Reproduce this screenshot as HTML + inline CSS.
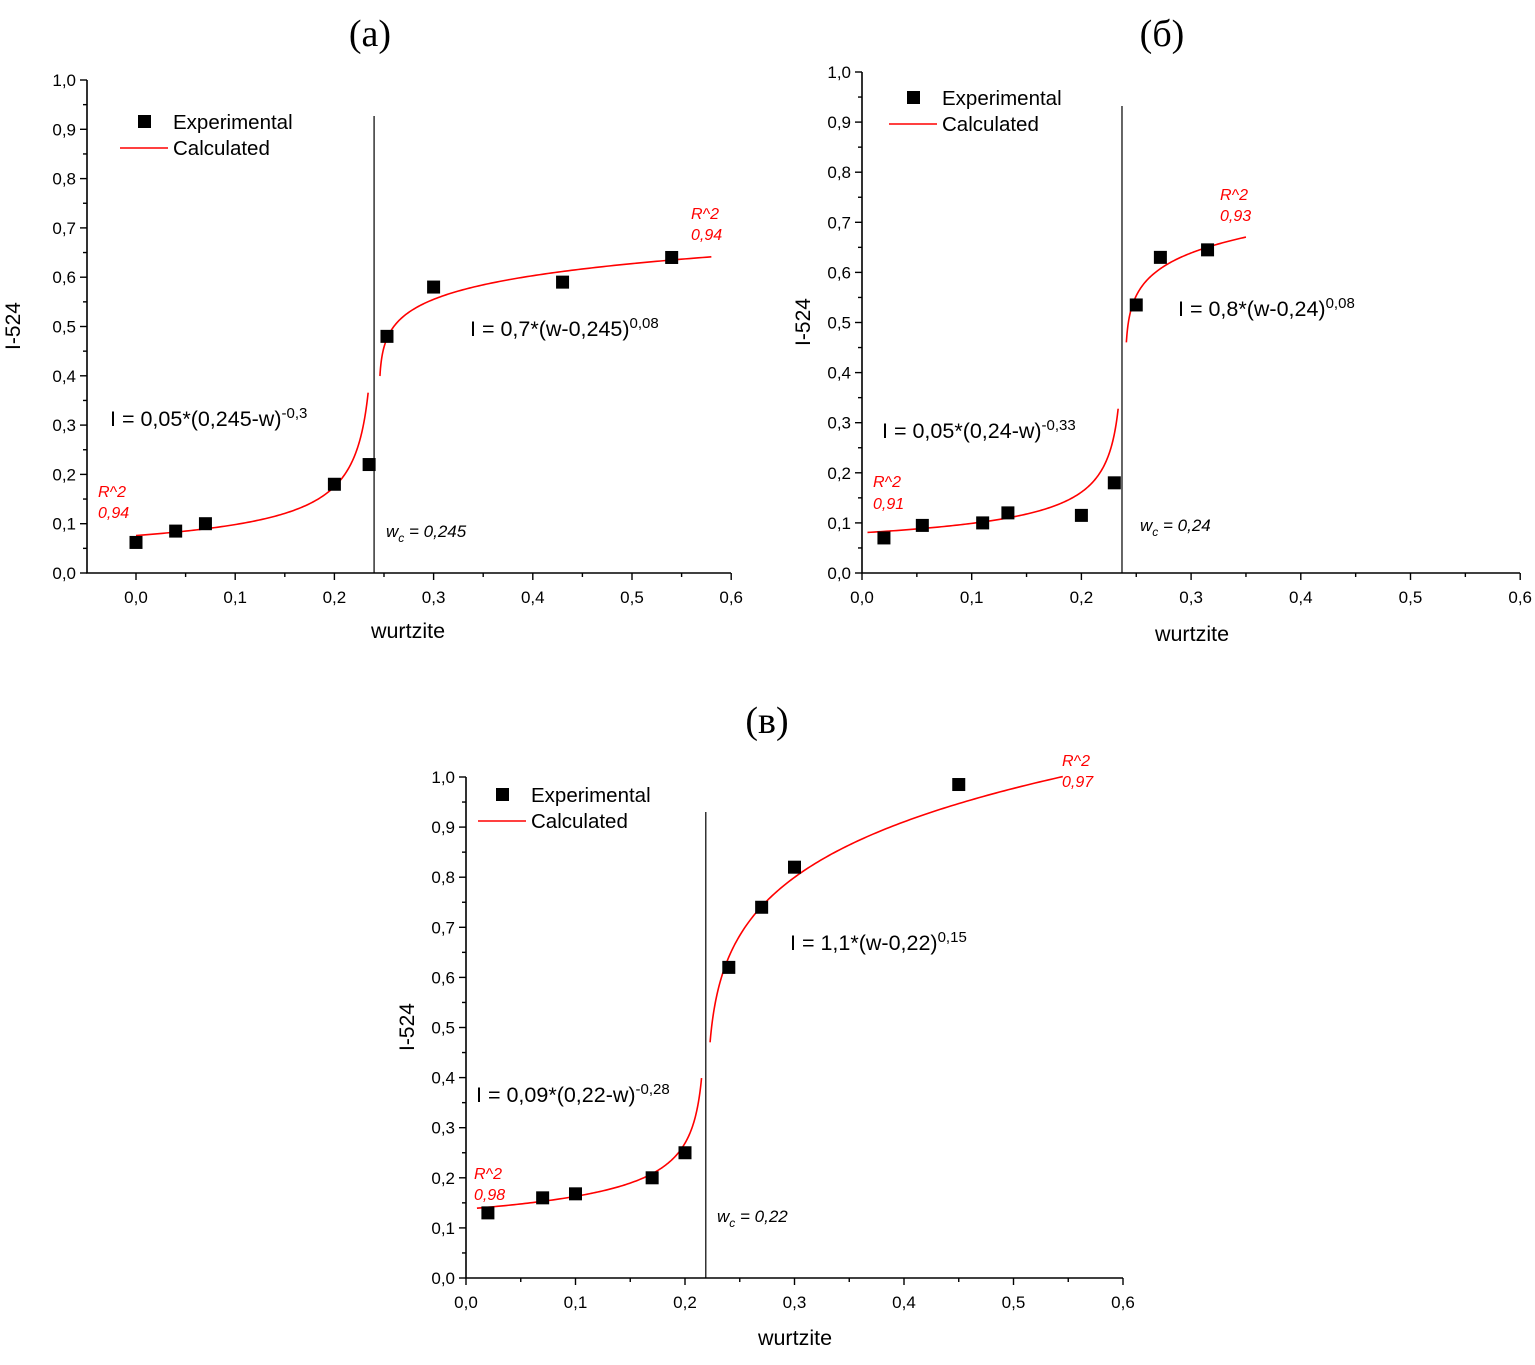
<!DOCTYPE html>
<html><head><meta charset="utf-8"><style>
body{margin:0;background:#fff;}
svg{display:block;font-family:"Liberation Sans",sans-serif;}
</style></head><body>
<svg id="chart" width="1535" height="1365" viewBox="0 0 1535 1365" xmlns="http://www.w3.org/2000/svg"></svg>
<script>
// Panel (a)
const aX = [0, 0.04, 0.07, 0.2, 0.235, 0.253, 0.3, 0.43, 0.54];
const aY = [0.062, 0.085, 0.1, 0.18, 0.22, 0.48, 0.58, 0.59, 0.64];
// Panel (b)
const bX = [0.02, 0.055, 0.11, 0.133, 0.2, 0.23, 0.25, 0.272, 0.315];
const bY = [0.07, 0.095, 0.1, 0.12, 0.115, 0.18, 0.535, 0.63, 0.645];
// Panel (c)
const cX = [0.02, 0.07, 0.1, 0.17, 0.2, 0.24, 0.27, 0.3, 0.45];
const cY = [0.13, 0.16, 0.168, 0.2, 0.25, 0.62, 0.74, 0.82, 0.985];
const xTickLabels = ["0,0","0,1","0,2","0,3","0,4","0,5","0,6"];
const yTickLabels = ["0,0","0,1","0,2","0,3","0,4","0,5","0,6","0,7","0,8","0,9","1,0"];
// fit params: [a, wc, b]
const aFit = {lo:[0.0384,0.2435,-0.484], hi:[0.7,0.245,0.08], loRange:[0,0.234], hiRange:[0.2459,0.58], wc:0.24};
const bFit = {lo:[0.046,0.24,-0.39], hi:[0.8,0.24,0.08], loRange:[0.005,0.2335], hiRange:[0.241,0.35], wc:0.237};
const cFit = {lo:[0.09,0.22,-0.28], hi:[1.198,0.22,0.16], loRange:[0.01,0.2151], hiRange:[0.2229,0.545], wc:0.219};

const svg = document.getElementById('chart');
const NS = 'http://www.w3.org/2000/svg';
function mk(tag, attrs, parent){const e=document.createElementNS(NS,tag);for(const k in attrs)e.setAttribute(k,attrs[k]);(parent||svg).appendChild(e);return e;}
function txt(s, x, y, attrs, parent){const t=mk('text',Object.assign({x:x,y:y},attrs),parent);t.innerHTML=s;return t;}

function panel(id, cfg, xs, ys, fit, texts){
  const g = mk('g',{});
  
  
  const X = v => cfg.x0 + v*cfg.xs;
  const Y = v => cfg.y0 - v*cfg.ys;
  const ax = mk('path',{d:`M${cfg.left} ${Y(1)} V${Y(0)} H${cfg.right}`,stroke:'#000','stroke-width':1.6,fill:'none'},g);
  
  
  for(let i=0;i<=20;i++){
    const v=i*0.05, y=Y(v), maj=i%2===0;
    mk('line',{x1:cfg.left,x2:cfg.left-(maj?7:4),y1:y,y2:y,stroke:'#000','stroke-width':1.4},g);
    if(maj){const t=txt(yTickLabels[i/2],cfg.left-11,y+6,{'font-size':17,'text-anchor':'end'},g);
      }
  }
  for(let i=cfg.xminTick;i<=12;i++){
    const v=i*0.05, x=X(v), maj=i%2===0;
    if(x<cfg.left-0.5) continue;
    mk('line',{x1:x,x2:x,y1:Y(0),y2:Y(0)+(maj?7:4),stroke:'#000','stroke-width':1.4},g);
    if(maj){const t=txt(xTickLabels[i/2],x,Y(0)+30,{'font-size':17,'text-anchor':'middle'},g);
      }
  }
  const vl=mk('line',{x1:X(fit.wc),x2:X(fit.wc),y1:cfg.vtop,y2:Y(0),stroke:'#000','stroke-width':1.2},g);
  
  function curve(p, r, lower){
    let d='';const n=150;
    for(let i=0;i<=n;i++){
      const t=i/n;
      const w=lower ? r[0]+(r[1]-r[0])*(1-Math.pow(1-t,2)) : r[0]+(r[1]-r[0])*t*t;
      const I = lower ? p[0]*Math.pow(p[1]-w,p[2]) : p[0]*Math.pow(w-p[1],p[2]);
      d+=(i?'L':'M')+X(w).toFixed(2)+' '+Y(I).toFixed(2);
    }
    const c=mk('path',{d:d,stroke:'#f00','stroke-width':1.6,fill:'none'},g);
    
    
  }
  curve(fit.lo, fit.loRange, true);
  curve(fit.hi, fit.hiRange, false);
  xs.forEach((v,i)=>{
    const r=mk('rect',{x:X(v)-6.5,y:Y(ys[i])-6.5,width:13,height:13,fill:'#000'},g);
    
    
  });
  const lg=mk('g',{},g);
  
  
  mk('rect',{x:cfg.leg[0]+18,y:cfg.leg[1]-7,width:13,height:13,fill:'#000'},lg);
  txt('Experimental',cfg.leg[0]+53,cfg.leg[1]+7,{'font-size':20.5},lg);
  mk('line',{x1:cfg.leg[0],x2:cfg.leg[0]+48,y1:cfg.leg[1]+26,y2:cfg.leg[1]+26,stroke:'#f00','stroke-width':1.6},lg);
  txt('Calculated',cfg.leg[0]+53,cfg.leg[1]+33,{'font-size':20.5},lg);
  const xt=txt('wurtzite',cfg.xt[0],cfg.xt[1],{'font-size':21.5,'text-anchor':'middle'},g);
  
  const yt=txt('I-524',0,0,{'font-size':21,'text-anchor':'middle',transform:`translate(${cfg.yt[0]},${cfg.yt[1]}) rotate(-90)`},g);
  
  const pl=txt(cfg.label,cfg.pl[0],cfg.pl[1],{'font-size':38,'text-anchor':'middle','font-family':'Liberation Serif, serif'},g);
  
  texts.forEach(t=>{const e=txt(t.s,t.x,t.y,t.a,g);});
}
const eq={'font-size':21.5};
const red={'font-size':16,fill:'#f00','font-style':'italic'};
const wc={'font-size':17,'font-style':'italic'};
const sup='<tspan dy="-8" font-size="15">';
panel('panel-a',{x0:136,xs:992,y0:573,ys:493,left:87,right:731,xminTick:-1,vtop:116,leg:[120,122],xt:[408,638],yt:[20,326],pl:[370,46],label:'(a)'},aX,aY,aFit,[
 {n:'equation-upper',s:'I = 0,7*(w-0,245)'+sup+'0,08</tspan>',x:470,y:336,a:eq},
 {n:'equation-lower',s:'I = 0,05*(0,245-w)'+sup+'-0,3</tspan>',x:110,y:426,a:eq},
 {n:'r2-lower',s:'R^2',x:98,y:497,a:red},{n:'r2-lower-value',s:'0,94',x:98,y:518,a:red},
 {n:'r2-upper',s:'R^2',x:691,y:219,a:red},{n:'r2-upper-value',s:'0,94',x:691,y:240,a:red},
 {n:'wc-label',s:'w<tspan dy="5" font-size="12">c</tspan><tspan dy="-5"> = 0,245</tspan>',x:386,y:537,a:wc}]);
panel('panel-b',{x0:862,xs:1097,y0:573,ys:501,left:862,right:1520,xminTick:0,vtop:106,leg:[889,98],xt:[1192,641],yt:[810,322],pl:[1162,46],label:'(б)'},bX,bY,bFit,[
 {n:'equation-upper',s:'I = 0,8*(w-0,24)'+sup+'0,08</tspan>',x:1178,y:316,a:eq},
 {n:'equation-lower',s:'I = 0,05*(0,24-w)'+sup+'-0,33</tspan>',x:882,y:438,a:eq},
 {n:'r2-lower',s:'R^2',x:873,y:487,a:red},{n:'r2-lower-value',s:'0,91',x:873,y:509,a:red},
 {n:'r2-upper',s:'R^2',x:1220,y:200,a:red},{n:'r2-upper-value',s:'0,93',x:1220,y:221,a:red},
 {n:'wc-label',s:'w<tspan dy="5" font-size="12">c</tspan><tspan dy="-5"> = 0,24</tspan>',x:1140,y:531,a:wc}]);
panel('panel-c',{x0:466,xs:1095,y0:1278,ys:501,left:466,right:1123,xminTick:0,vtop:812,leg:[478,795],xt:[795,1345],yt:[414,1027],pl:[767,733],label:'(в)'},cX,cY,cFit,[
 {n:'equation-upper',s:'I = 1,1*(w-0,22)'+sup+'0,15</tspan>',x:790,y:950,a:eq},
 {n:'equation-lower',s:'I = 0,09*(0,22-w)'+sup+'-0,28</tspan>',x:476,y:1102,a:eq},
 {n:'r2-lower',s:'R^2',x:474,y:1179,a:red},{n:'r2-lower-value',s:'0,98',x:474,y:1200,a:red},
 {n:'r2-upper',s:'R^2',x:1062,y:766,a:red},{n:'r2-upper-value',s:'0,97',x:1062,y:787,a:red},
 {n:'wc-label',s:'w<tspan dy="5" font-size="12">c</tspan><tspan dy="-5"> = 0,22</tspan>',x:717,y:1222,a:wc}]);
</script>
</body></html>
